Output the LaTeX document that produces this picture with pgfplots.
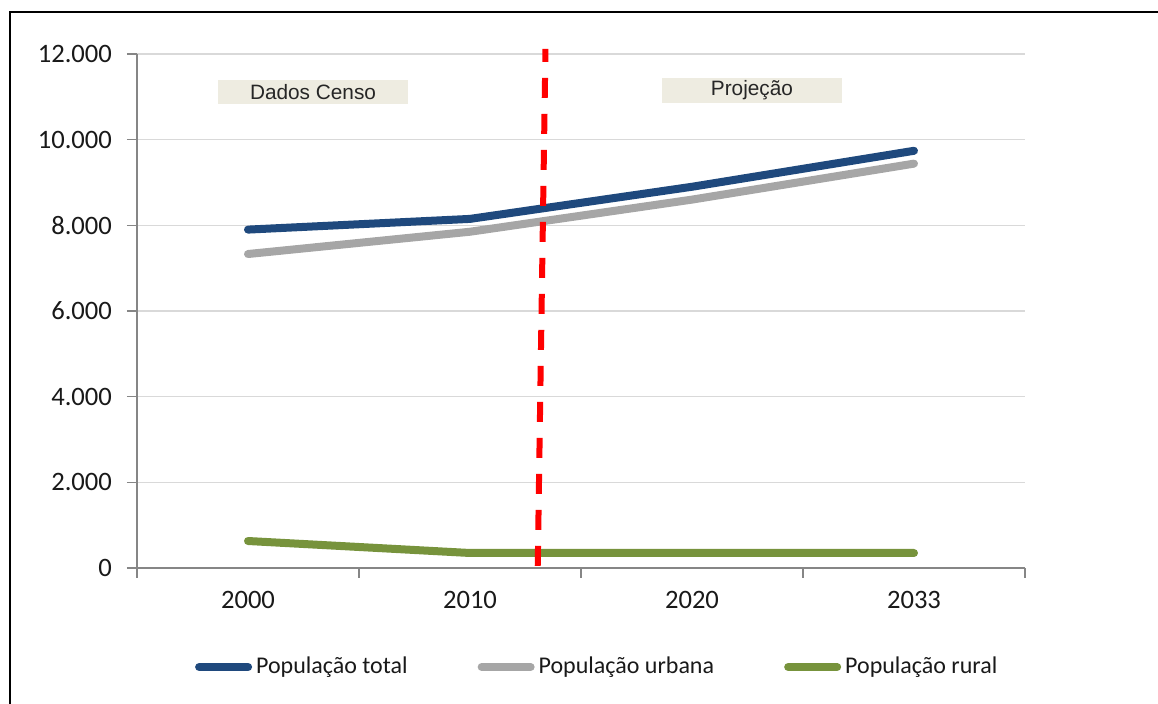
\documentclass[border=0pt]{standalone}
\usepackage{pgfplots}
\pgfplotsset{compat=1.18}
\usepackage{fontspec}
\setmainfont{Carlito}
\newfontfamily\arialf{Liberation Sans}
\definecolor{cblue}{HTML}{1F497D}
\definecolor{cgray}{HTML}{A6A6A6}
\definecolor{cgreen}{HTML}{77933C}
\definecolor{cbox}{HTML}{EEECE1}
\definecolor{cgrid}{HTML}{D9D9D9}
\definecolor{caxis}{HTML}{868686}
\begin{document}
\begin{tikzpicture}
\path[use as bounding box] (0,0) rectangle (579pt,352pt);
\draw[line width=1pt, black] (5pt,0pt) -- (5pt,346pt) -- (579pt,346pt);
\begin{axis}[
  at={(68.5pt,68pt)}, anchor=south west,
  scale only axis, width=444pt, height=257pt,
  xmin=-0.5, xmax=3.5, ymin=0, ymax=12000,
  axis x line*=bottom, axis y line*=left,
  axis line style={caxis, line width=0.6pt},
  ytick={0,2000,...,12000},
  scaled y ticks=false,
  /pgf/number format/1000 sep={.},
  /pgf/number format/assume math mode=true,
  yticklabel style={font=\fontsize{13.3}{16}\selectfont, text=black!90, xshift=-4pt},
  xtick={-0.5,0.5,1.5,2.5,3.5}, xticklabels={},
  extra x ticks={0,1,2,3},
  extra x tick labels={2000,2010,2020,2033},
  extra x tick style={major tick length=0pt, grid=none,
     tick label style={font=\fontsize{13.3}{16}\selectfont, text=black!90, yshift=-8pt}},
  tick align=outside, major tick length=5pt,
  tick style={caxis, line width=0.6pt},
  ymajorgrids, grid style={cgrid, line width=0.6pt},
  clip=false,
  legend columns=-1,
  legend style={draw=none, fill=none, at={(0.065,-0.1926)}, anchor=west,
    inner sep=0pt, font=\fontsize{12}{14}\selectfont, text=black!90,
    /tikz/every even column/.append style={column sep=33pt}},
  legend image code/.code={\draw[#1] (0pt,0pt) -- (24.5pt,0pt);},
]
\addplot[cblue, line width=4pt, line cap=round, line join=round] coordinates {(0,7900) (1,8150) (2,8900) (3,9740)};
\addlegendentry{População total}
\addplot[cgray, line width=4pt, line cap=round, line join=round] coordinates {(0,7330) (1,7850) (2,8600) (3,9440)};
\addlegendentry{População urbana}
\addplot[cgreen, line width=4pt, line cap=round, line join=round] coordinates {(0,630) (1,350) (2,350) (3,350)};
\addlegendentry{População rural}
\addplot[red, line width=3pt, dash pattern=on 10pt off 8pt, dash phase=3.5pt, forget plot] coordinates {(1.34,12120) (1.305,0)};
\node[fill=cbox, minimum width=95pt, minimum height=12pt, inner sep=0pt, font=\arialf\fontsize{10.4}{12}\selectfont, text=black!85] at (axis cs:0.293,11110) {Dados Censo};
\node[fill=cbox, minimum width=90pt, minimum height=12.5pt, inner sep=0pt, font=\arialf\fontsize{10.4}{12}\selectfont, text=black!85] at (axis cs:2.27,11150) {Projeção};
\end{axis}
\end{tikzpicture}
\end{document}
